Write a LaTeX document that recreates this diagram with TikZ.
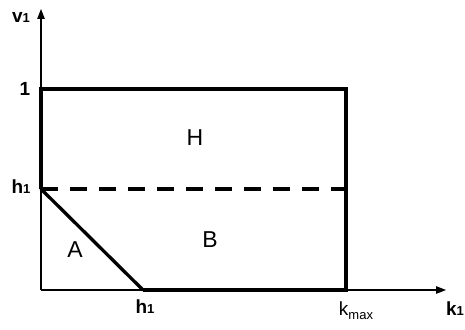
\documentclass[tikz,border=0pt]{standalone}
\usepackage{fontspec}
\setmainfont{Liberation Sans}
\usetikzlibrary{arrows.meta}
\begin{document}
\begin{tikzpicture}[x=1pt,y=-1pt,
  axis/.style={line width=1.3pt,-{Triangle[length=10pt,width=7.5pt]}},
  thick box/.style={line width=3.3pt},
  dashline/.style={line width=3.3pt,dash pattern=on 17pt off 12pt},
  lbl/.style={font=\fontsize{19}{21}\selectfont\bfseries,inner sep=0pt},
  sub/.style={},
  region/.style={font=\fontsize{23}{25}\selectfont,inner sep=0pt}]
\useasboundingbox (0,0) rectangle (465,329);
\coordinate (O) at (41,290);
\coordinate (ytop) at (41,9);
\coordinate (xend) at (446,290);
\coordinate (TL) at (41,89);
\coordinate (TR) at (346,89);
\coordinate (BR) at (346,290);
\coordinate (HL) at (41,189);
\coordinate (HR) at (346,189);
\coordinate (D) at (143,290);
\draw[axis] (O) -- (ytop);
\draw[axis] (O) -- (xend);
\draw[thick box] (HL) -- (TL) -- (TR) -- (BR) -- (D);
\draw[dashline] (HL) -- (HR);
\draw[thick box,line cap=round] (HL) -- (D);
\node[lbl] (v1) at (21,17) {v{\fontsize{13}{15}\selectfont 1}};
\node[lbl] (one) at (25,89) {1};
\node[lbl] (h1y) at (21,187) {h{\fontsize{13}{15}\selectfont 1}};
\node[lbl] (h1x) at (145,307) {h{\fontsize{13}{15}\selectfont 1}};
\node[inner sep=0pt,font=\fontsize{19}{21}\selectfont] (kmax) at (356,311) {k\raisebox{-4pt}{\fontsize{13}{15}\selectfont max}};
\node[lbl] (k1) at (455,309) {k{\fontsize{13}{15}\selectfont 1}};
\node[region] (H) at (195,138) {H};
\node[region] (B) at (210,240) {B};
\node[region] (A) at (75,250) {A};
\end{tikzpicture}
\end{document}
